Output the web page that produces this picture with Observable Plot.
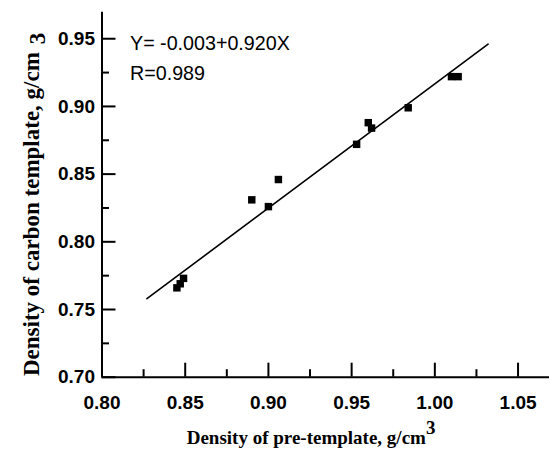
<!DOCTYPE html>
<html><head><meta charset="utf-8">
<script src="https://cdn.jsdelivr.net/npm/d3@7"></script>
<script src="https://cdn.jsdelivr.net/npm/@observablehq/plot@0.6"></script>
<style>html,body{margin:0;padding:0;background:#fff}</style>
</head><body><div id="chart"></div>
<script>
// Data
const preDensity    = [0.845, 0.847, 0.849, 0.890, 0.900, 0.906, 0.953, 0.960, 0.962, 0.984, 1.010, 1.014];
const carbonDensity = [0.766, 0.769, 0.773, 0.831, 0.826, 0.846, 0.872, 0.888, 0.884, 0.899, 0.922, 0.922];
// Fitted line endpoints (Y = -0.003 + 0.920X)
const fitX = [0.827, 1.032];
const fitY = [0.758, 0.946];
// Ticks
const xTicks = [0.80, 0.85, 0.90, 0.95, 1.00, 1.05];
const xMinor = [0.825, 0.875, 0.925, 0.975, 1.025];
const yTicks = [0.70, 0.75, 0.80, 0.85, 0.90, 0.95];
const yMinor = [0.725, 0.775, 0.825, 0.875, 0.925];
// Texts
const annotations = ["Y= -0.003+0.920X", "R=0.989"];
const xTitle = "Density of pre-template, g/cm";
const yTitle = "Density of carbon template, g/cm";
const unitSup = "3";

const points = preDensity.map((x, i) => ({x, y: carbonDensity[i]}));
const fit = fitX.map((x, i) => ({x, y: fitY[i]}));
const fmt = d3.format(".2f");
const blank = () => "";
const sans = "'Liberation Sans', Arial, sans-serif";
const serif = "'Liberation Serif', 'Times New Roman', serif";

const svg = Plot.plot({
  width: 549,
  height: 452,
  marginLeft: 101.5,
  marginRight: 0,
  marginTop: 11.7,
  marginBottom: 75.3,
  style: {fontFamily: sans, background: "#fff", color: "#000", overflow: "visible"},
  x: {domain: [0.80, 1.0689], axis: null},
  y: {domain: [0.70, 0.9696], axis: null},
  marks: [
    Plot.axisX(xTicks, {label: null, tickSize: -14, strokeWidth: 2, tickFormat: blank}),
    Plot.axisX(xMinor, {label: null, tickSize: -7.5, strokeWidth: 2, tickFormat: blank}),
    Plot.axisX(xTicks, {label: null, tickSize: 0, tickPadding: 18, tickFormat: fmt, fontSize: 19, fontWeight: "bold", fill: "#000"}),
    Plot.axisY(yTicks, {label: null, tickSize: -14, strokeWidth: 2, tickFormat: blank}),
    Plot.axisY(yMinor, {label: null, tickSize: -7.5, strokeWidth: 2, tickFormat: blank}),
    Plot.axisY(yTicks, {label: null, tickSize: 0, tickPadding: 7, tickFormat: fmt, fontSize: 19, fontWeight: "bold", fill: "#000"}),
    Plot.ruleY([0.70], {strokeWidth: 2}),
    Plot.ruleX([0.80], {strokeWidth: 2}),
    Plot.line(fit, {x: "x", y: "y", stroke: "#000", strokeWidth: 1.6}),
    Plot.dot(points, {x: "x", y: "y", symbol: "square", r: 4.2, fill: "#000", stroke: "none"}),
    Plot.text([annotations[0]], {text: d => d, frameAnchor: "top-left", textAnchor: "start", lineAnchor: "top", dx: 28, dy: 23.3, fontSize: 19.7, fill: "#000"}),
    Plot.text([annotations[1]], {text: d => d, frameAnchor: "top-left", textAnchor: "start", lineAnchor: "top", dx: 28, dy: 53.3, fontSize: 19.7, fill: "#000"})
  ]
});

const s = d3.select(svg);
const xt = s.append("text")
  .attr("x", 186.7).attr("y", 444.3)
  .attr("text-anchor", "start")
  .attr("font-family", serif).attr("font-weight", "bold").attr("font-size", 19)
  .attr("fill", "#000")
  .text(xTitle);
xt.append("tspan").attr("dy", -10).text(unitSup);

const yt = s.append("text")
  .attr("transform", "translate(38.5,376) rotate(-90)")
  .attr("text-anchor", "start")
  .attr("font-family", serif).attr("font-weight", "bold").attr("font-size", 23)
  .attr("fill", "#000")
  .text(yTitle);
yt.append("tspan").attr("dx", 8).attr("dy", 6).text(unitSup);

document.getElementById("chart").appendChild(svg);
</script>
</body></html>
